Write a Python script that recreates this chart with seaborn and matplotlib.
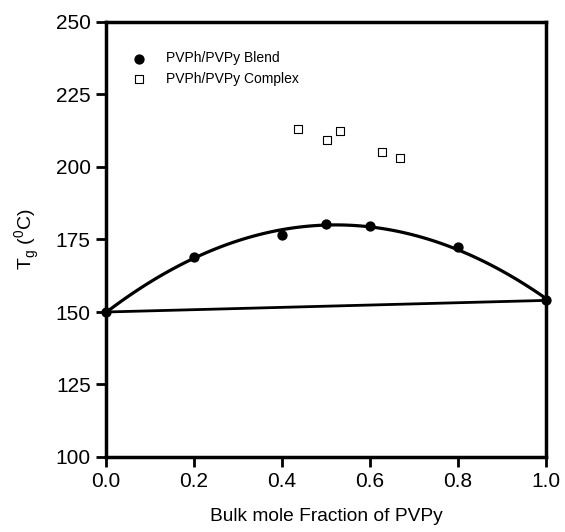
import numpy as np
import pandas as pd
import matplotlib
matplotlib.use("Agg")
import matplotlib.pyplot as plt
import seaborn as sns

# Data
blend_x = [0.0, 0.2, 0.4, 0.5, 0.6, 0.8, 1.0]
blend_tg = [150.0, 169.0, 176.6, 180.3, 179.8, 172.5, 154.0]
complex_x = [0.436, 0.502, 0.532, 0.627, 0.669]
complex_tg = [213.1, 209.2, 212.4, 205.3, 203.2]
linear_x = [0.0, 1.0]
linear_tg = [150.0, 154.0]
x_ticks = [0.0, 0.2, 0.4, 0.6, 0.8, 1.0]
y_ticks = [100, 125, 150, 175, 200, 225, 250]

sns.set_style("white")
plt.rcParams['font.family'] = ['Liberation Sans', 'DejaVu Sans']
plt.rcParams['mathtext.fontset'] = 'custom'
plt.rcParams['mathtext.rm'] = 'Liberation Sans'
for k in ['text.color', 'axes.labelcolor', 'xtick.color', 'ytick.color']:
    plt.rcParams[k] = 'black'

blend = pd.DataFrame({"x": blend_x, "tg": blend_tg})
cplx = pd.DataFrame({"x": complex_x, "tg": complex_tg})
lin = pd.DataFrame({"x": linear_x, "tg": linear_tg})

fig, ax = plt.subplots(figsize=(5.65, 5.32), dpi=100)
fig.subplots_adjust(left=106/565, right=546/565, top=1-22/532, bottom=1-457/532)

sns.regplot(data=blend, x="x", y="tg", order=2, ci=None, scatter=False, truncate=True,
            line_kws=dict(color="black", lw=2.3), ax=ax)
sns.lineplot(data=lin, x="x", y="tg", color="black", lw=2.0, ax=ax)
sns.scatterplot(data=blend, x="x", y="tg", marker="o", s=55, color="black",
                edgecolor="black", linewidth=0, ax=ax, label="PVPh/PVPy Blend", zorder=5,
                clip_on=False)
sns.scatterplot(data=cplx, x="x", y="tg", marker="s", s=40, facecolor="white",
                edgecolor="black", linewidth=0.8, ax=ax, label="PVPh/PVPy Complex", zorder=5)

ax.set_xlim(0, 1)
ax.set_ylim(100, 250)
ax.set_xticks(x_ticks)
ax.set_xticklabels([f"{v:.1f}" for v in x_ticks])
ax.set_yticks(y_ticks)
ax.tick_params(axis="both", direction="out", length=7, width=2, labelsize=15, pad=4,
               bottom=True, left=True, top=False, right=False, color="black")
for s in ax.spines.values():
    s.set_linewidth(2.5)
    s.set_color("black")

ax.set_xlabel("Bulk mole Fraction of PVPy", fontsize=13.8, labelpad=12)
ax.set_ylabel(r"T$_\mathregular{g}$ ($^\mathregular{0}$C)", fontsize=14, labelpad=10)

ax.legend(loc="upper left", bbox_to_anchor=(0.03, 0.945), frameon=False, fontsize=10,
          handletextpad=1.0, labelspacing=0.45, borderaxespad=0)

fig.savefig("out.png", dpi=100)
